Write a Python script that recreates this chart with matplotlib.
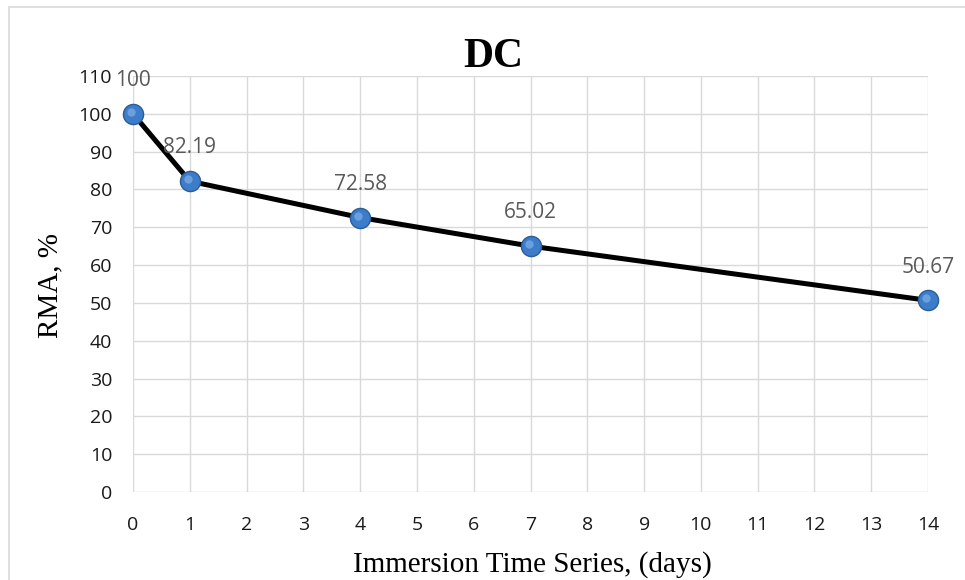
import numpy as np
import matplotlib.pyplot as plt
from matplotlib.patches import Rectangle

days = [0, 1, 4, 7, 14]
rma = [100, 82.19, 72.58, 65.02, 50.67]
x_ticks = list(range(0, 15))
y_ticks = list(range(0, 111, 10))

W, H = 965, 580
fig = plt.figure(figsize=(W / 100, H / 100), dpi=100)
ax = fig.add_axes([133 / W, 1 - 492 / H, 795 / W, 416 / H])

# chart-area border (left and top edges visible, the rest runs off the canvas)
fig.patches.append(Rectangle((9 / W, -0.05), 1.2, 1 - 7 / H + 0.05, transform=fig.transFigure,
                             fill=False, edgecolor='#d9d9d9', linewidth=1.2))

ax.plot(days, rma, color='black', linewidth=3.6, zorder=3, clip_on=False,
        solid_capstyle='round', solid_joinstyle='round')
ax.plot(days, rma, linestyle='none', marker='o', markersize=14.5, clip_on=False,
        markerfacecolor='#3d7cc9', markeredgecolor='#2b5d99', markeredgewidth=1.0, zorder=4)
# small highlight on each marker
ax.plot(days, rma, linestyle='none', marker='o', markersize=6, clip_on=False,
        markerfacecolor='#7fb0e8', markeredgecolor='none', alpha=0.7, zorder=5,
        transform=ax.transData + plt.matplotlib.transforms.ScaledTranslation(-2 / 100, 2 / 100, fig.dpi_scale_trans))

for x, y in zip(days, rma):
    ax.annotate(f'{y:g}', (x, y), xytext=(0, 24), textcoords='offset points',
                ha='center', va='center', fontsize=15, color='#595959',
                family='Open Sans', zorder=6, annotation_clip=False)

ax.set_xlim(0, 14)
ax.set_ylim(0, 110)
ax.set_xticks(x_ticks)
ax.set_yticks(y_ticks)
ax.grid(True, color='#d9d9d9', linewidth=1.0)
ax.set_axisbelow(True)
for s in ax.spines.values():
    s.set_visible(False)
ax.tick_params(length=0, labelsize=14, colors='#1a1a1a')
ax.tick_params(axis='x', pad=17)
ax.tick_params(axis='y', pad=15)
for lab in ax.get_xticklabels() + ax.get_yticklabels():
    lab.set_family('Open Sans')

fig.text(493 / W, 1 - 67 / H, 'DC', fontsize=30, fontweight='bold',
         family='Liberation Serif', ha='center', va='baseline')
fig.text(532 / W, 1 - 572 / H, 'Immersion Time Series, (days)', fontsize=21,
         family='Liberation Serif', ha='center', va='baseline')
fig.text(50 / W, 1 - 285 / H, 'RMA, %', fontsize=21, rotation=90,
         family='Liberation Serif', ha='center', va='center')

fig.savefig('out.png', dpi=100)
